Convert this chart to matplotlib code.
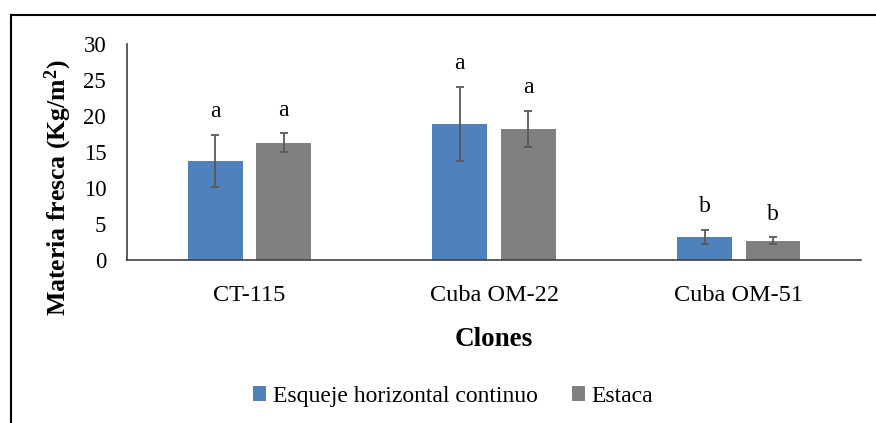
import numpy as np
import matplotlib.pyplot as plt
from matplotlib.lines import Line2D

# -------------------------------
# Data

clones = ["CT-115", "Cuba OM-22", "Cuba OM-51"]
series = ["Esqueje horizontal continuo", "Estaca"]
esqueje_vals = [13.8, 18.9, 3.2]
esqueje_err = [3.6, 5.2, 1.0]
estaca_vals = [16.3, 18.2, 2.7]
estaca_err = [1.3, 2.5, 0.5]
esqueje_letters = ["a", "a", "b"]
estaca_letters = ["a", "a", "b"]

colors = ["#4F81BD", "#808080"]

plt.rcParams['font.family'] = ['Liberation Serif', 'DejaVu Serif']
plt.rcParams['mathtext.fontset'] = 'custom'
plt.rcParams['mathtext.rm'] = 'Liberation Serif'
plt.rcParams['mathtext.bf'] = 'Liberation Serif:bold'

fig = plt.figure(figsize=(8.76, 4.23), dpi=100)
ax = fig.add_axes([0.145, 0.385, 0.838, 0.511])

x = np.arange(len(clones))
width = 0.224
offset = 0.14

groups = [(esqueje_vals, esqueje_err, esqueje_letters), (estaca_vals, estaca_err, estaca_letters)]
for i, (vals, errs, letters) in enumerate(groups):
    pos = x + (-offset if i == 0 else offset)
    ax.bar(pos, vals, width, color=colors[i], label=series[i],
           yerr=errs, capsize=3, ecolor="#595959",
           error_kw={"elinewidth": 1.3, "capthick": 1.3})
    for p, v, e, l in zip(pos, vals, errs, letters):
        ax.annotate(l, (p, v + e), xytext=(0, 9), textcoords="offset points",
                    ha="center", va="bottom", fontsize=17)

ax.set_xlim(-0.5, 2.5)
ax.set_ylim(0, 30)
ax.set_yticks(range(0, 31, 5))
ax.set_xticks(x)
ax.set_xticklabels(clones)
ax.tick_params(axis="both", length=0)
ax.tick_params(axis="y", pad=15, labelsize=16.5)
ax.tick_params(axis="x", pad=18, labelsize=17.5)

for spine in ["top", "right"]:
    ax.spines[spine].set_visible(False)
for spine in ["left", "bottom"]:
    ax.spines[spine].set_color("#404040")
    ax.spines[spine].set_linewidth(1.2)

ax.set_ylabel(r"Materia fresca (Kg/m$\mathbf{^{2}}$)", fontsize=18.5, fontweight="bold", va="center")
ax.yaxis.set_label_coords(-0.093, 0.335)
ax.set_xlabel("Clones", fontsize=19.5, fontweight="bold", va="center")
ax.xaxis.set_label_coords(0.5, -0.365)

ax.legend(loc="center", bbox_to_anchor=(0.444, -0.63), ncol=2, frameon=False,
          fontsize=17, handlelength=0.55, handleheight=0.55, handletextpad=0.3,
          columnspacing=1.45)

# ---------------------------------
# Outer frame (left and top visible)

fig.add_artist(Line2D([0.012, 0.012], [0, 0.965], transform=fig.transFigure, color="black", lw=1.5))
fig.add_artist(Line2D([0.012, 1.0], [0.965, 0.965], transform=fig.transFigure, color="black", lw=1.5))

fig.savefig("out.png", dpi=100)
